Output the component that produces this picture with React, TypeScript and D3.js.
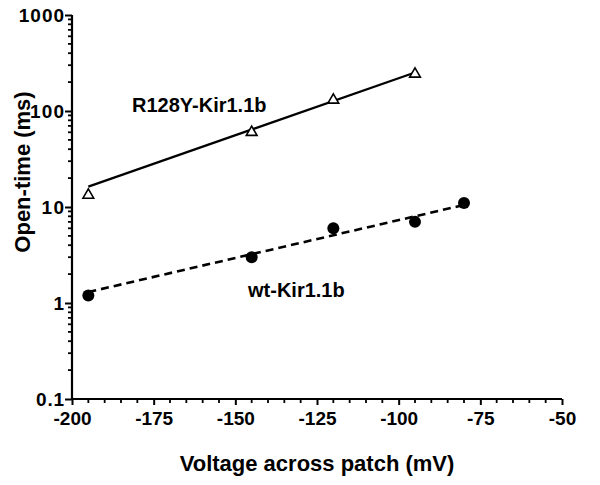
import React, { useEffect, useRef } from 'react'
import * as d3 from 'd3'

// measured points
const mutantV = [-195, -145, -120, -95]
const mutantT = [13.3, 60, 130, 243]
const wtV = [-195, -145, -120, -95, -80]
const wtT = [1.2, 3, 6, 7, 11]

// fitted lines (end points)
const mutantFitV = [-195, -95]
const mutantFitT = [16.3, 252]
const wtFitV = [-195, -80]
const wtFitT = [1.3, 10.5]

const xTicks = [-200, -175, -150, -125, -100, -75, -50]
const yTicks = [0.1, 1, 10, 100, 1000]

const W = 600
const H = 485
const margin = { top: 15, right: 38, bottom: 86, left: 72 }
const FONT = '"Liberation Sans", Arial, Helvetica, sans-serif'

const App = () => {
  const ref = useRef<SVGSVGElement>(null)

  useEffect(() => {
    const svg = d3.select(ref.current)
    svg.selectAll('*').remove()

    const x = d3.scaleLinear().domain([-200, -50]).range([margin.left, W - margin.right])
    const y = d3.scaleLog().domain([0.1, 1000]).range([H - margin.bottom, margin.top])

    const g = svg.append('g').style('font-family', FONT).style('font-weight', 'bold')

    // y axis
    const yAxis = d3
      .axisLeft(y)
      .tickValues(yTicks)
      .tickFormat(d => String(d))
      .tickSize(7)
      .tickPadding(1)
    const ya = g.append('g').attr('transform', `translate(${margin.left},0)`).call(yAxis)
    ya.select('.domain').attr('stroke-width', 2.2).attr('d', `M0,${y(0.1)}V${y(1000)}`)
    ya.selectAll('.tick line').attr('stroke-width', 2)
    ya.selectAll('.tick text')
      .style('font-size', '19px')
      .attr('fill', '#000')
      .attr('font-family', FONT)
      .attr('textLength', (d: any) => String(d).length * 11.3 - (String(d).includes('.') ? 6 : 0))
    ya.attr('font-size', null)

    const minorY: number[] = []
    for (let e = -1; e < 3; e++) {
      for (let m = 2; m <= 9; m++) minorY.push(m * Math.pow(10, e))
    }
    ya.selectAll('.minor')
      .data(minorY)
      .enter()
      .append('line')
      .attr('class', 'minor')
      .attr('x1', -4)
      .attr('x2', 0)
      .attr('y1', d => y(d))
      .attr('y2', d => y(d))
      .attr('stroke', '#000')
      .attr('stroke-width', 1.8)

    // x axis
    const xAxis = d3
      .axisBottom(x)
      .tickValues(xTicks)
      .tickFormat(d => String(d))
      .tickSize(6)
      .tickPadding(7)
    const xa = g.append('g').attr('transform', `translate(0,${y(0.1)})`).call(xAxis)
    xa.select('.domain').attr('stroke-width', 2.2).attr('d', `M${x(-200)},0H${x(-50)}`)
    xa.selectAll('.tick line').attr('stroke-width', 2)
    xa.selectAll('.tick text').style('font-size', '19px').attr('fill', '#000').attr('font-family', FONT)
    xa.attr('font-size', null)

    const minorX = d3.range(-195, -50, 5).filter(v => v % 25 !== 0)
    xa.selectAll('.minor')
      .data(minorX)
      .enter()
      .append('line')
      .attr('class', 'minor')
      .attr('x1', d => x(d))
      .attr('x2', d => x(d))
      .attr('y1', 0)
      .attr('y2', 4)
      .attr('stroke', '#000')
      .attr('stroke-width', 1.8)

    // axis titles
    g.append('text')
      .attr('x', (x(-200) + x(-50)) / 2)
      .attr('y', 471)
      .attr('text-anchor', 'middle')
      .style('font-size', '22px')
      .text('Voltage across patch (mV)')

    g.append('text')
      .attr('transform', `translate(30,${(y(0.1) + y(1000)) / 2 - 35}) rotate(-90)`)
      .attr('text-anchor', 'middle')
      .style('font-size', '22px')
      .text('Open-time (ms)')

    // fit lines
    const line = d3
      .line<number[]>()
      .x(p => x(p[0]))
      .y(p => y(p[1]))

    const mutantFit = mutantFitV.map((v, i) => [v, mutantFitT[i]])
    const wtFit = wtFitV.map((v, i) => [v, wtFitT[i]])

    g.append('path')
      .attr('d', line(mutantFit))
      .attr('fill', 'none')
      .attr('stroke', '#000')
      .attr('stroke-width', 2.2)

    g.append('path')
      .attr('d', line(wtFit))
      .attr('fill', 'none')
      .attr('stroke', '#000')
      .attr('stroke-width', 2.6)
      .attr('stroke-dasharray', '8,5')

    // markers
    const tri = d3.symbol().type(d3.symbolTriangle).size(50)
    g.selectAll('.tri')
      .data(mutantV.map((v, i) => [v, mutantT[i]]))
      .enter()
      .append('path')
      .attr('class', 'tri')
      .attr('d', tri)
      .attr('transform', d => `translate(${x(d[0])},${y(d[1])})`)
      .attr('fill', '#fff')
      .attr('stroke', '#000')
      .attr('stroke-width', 1.6)

    g.selectAll('.dot')
      .data(wtV.map((v, i) => [v, wtT[i]]))
      .enter()
      .append('circle')
      .attr('class', 'dot')
      .attr('cx', d => x(d[0]))
      .attr('cy', d => y(d[1]))
      .attr('r', 6)
      .attr('fill', '#000')

    // series labels
    g.append('text').attr('x', 132).attr('y', 112).style('font-size', '20px').text('R128Y-Kir1.1b')
    g.append('text').attr('x', 248).attr('y', 297).style('font-size', '20px').text('wt-Kir1.1b')
  }, [])

  return (
    <svg
      ref={ref}
      width={W}
      height={H}
      style={{ position: 'absolute', left: 0, top: 0, background: '#fff' }}
    />
  )
}

export default App
